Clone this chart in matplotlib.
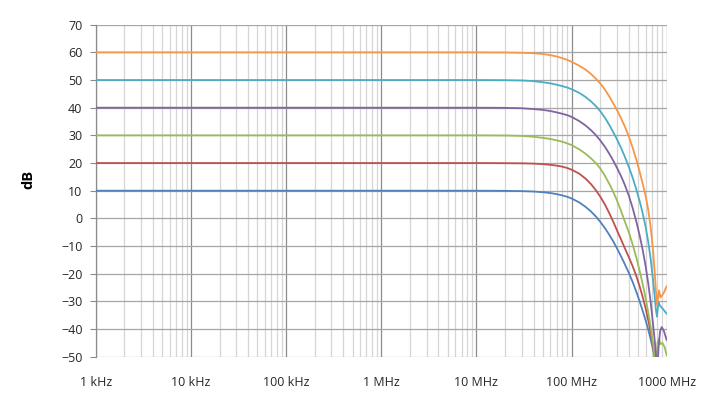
import matplotlib
matplotlib.use("Agg")
import matplotlib.pyplot as plt
from matplotlib.ticker import FixedLocator, NullFormatter, LogLocator

# Frequencies in MHz, gains in dB
f_blue = [0.001, 0.01, 0.1, 1, 10, 20, 30, 40, 50, 60, 70, 80, 90, 100, 120, 140, 160, 180, 200, 225, 250, 275, 300, 330, 360, 400, 440, 480, 520, 560, 600, 640, 680, 720, 750]
g_blue = [10, 10, 10, 10, 10, 9.95, 9.85, 9.7, 9.45, 9.15, 8.75, 8.3, 7.8, 7.2, 5.8, 4.2, 2.5, 0.7, -1.2, -3.6, -6.0, -8.4, -10.8, -13.6, -16.3, -19.7, -23.1, -26.6, -30.0, -33.5, -36.8, -40.2, -43.8, -47.6, -50.5]

f_red = [0.001, 0.01, 0.1, 1, 10, 20, 30, 40, 50, 60, 70, 80, 90, 100, 120, 140, 160, 180, 200, 225, 250, 275, 300, 330, 360, 400, 440, 480, 520, 560, 600, 640, 680, 720, 760]
g_red = [20, 20, 20, 20, 20, 19.95, 19.9, 19.8, 19.6, 19.35, 19.05, 18.7, 18.2, 17.6, 16.2, 14.4, 12.4, 10.2, 7.9, 4.9, 1.8, -1.3, -4.3, -7.5, -10.5, -14.0, -17.4, -20.9, -24.6, -28.5, -32.5, -36.8, -41.5, -46.5, -51.5]

f_green = [0.001, 0.01, 0.1, 1, 10, 20, 30, 40, 50, 60, 70, 80, 90, 100, 120, 140, 160, 180, 200, 225, 250, 275, 300, 330, 360, 400, 440, 480, 520, 560, 600, 640, 680, 720, 750, 775, 800, 830, 860, 900, 950, 1000]
g_green = [30, 30, 30, 30, 30, 29.95, 29.8, 29.5, 29.1, 28.7, 28.2, 27.7, 27.1, 26.5, 25.0, 23.4, 21.7, 20.0, 18.1, 15.3, 12.4, 9.5, 6.5, 2.9, -0.8, -5.0, -9.6, -14.2, -19.0, -23.8, -28.8, -34.0, -39.4, -45.5, -50.5, -54.0, -45.0, -43.5, -45.5, -45.0, -46.5, -49.5]

f_purple = [0.001, 0.01, 0.1, 1, 10, 20, 30, 40, 50, 60, 70, 80, 90, 100, 120, 140, 160, 180, 200, 225, 250, 275, 300, 330, 360, 400, 440, 480, 520, 560, 600, 640, 680, 720, 750, 775, 795, 820, 850, 885, 930, 970, 1000]
g_purple = [40, 40, 40, 40, 40, 39.95, 39.8, 39.5, 39.2, 38.8, 38.3, 37.8, 37.3, 36.7, 35.2, 33.6, 31.9, 30.1, 28.2, 25.8, 23.3, 20.8, 18.3, 15.4, 12.4, 8.2, 3.6, -1.2, -6.2, -11.5, -17.2, -23.5, -30.5, -38.5, -44.5, -50.5, -56.0, -47.0, -41.0, -39.3, -40.5, -42.5, -44.0]

f_cyan = [0.001, 0.01, 0.1, 1, 10, 20, 30, 40, 50, 60, 70, 80, 90, 100, 120, 140, 160, 180, 200, 225, 250, 275, 300, 330, 360, 400, 440, 480, 520, 560, 600, 640, 680, 720, 750, 770, 790, 820, 850, 900, 950, 1000]
g_cyan = [50, 50, 50, 50, 50, 49.95, 49.85, 49.6, 49.2, 48.8, 48.3, 47.8, 47.3, 46.7, 45.4, 43.9, 42.3, 40.6, 38.8, 36.3, 33.7, 31.1, 28.6, 25.6, 22.6, 18.6, 14.6, 10.4, 6.2, 1.8, -3.0, -8.5, -15.0, -22.5, -28.5, -33.0, -35.5, -30.1, -31.6, -32.5, -33.5, -34.5]

f_orange = [0.001, 0.01, 0.1, 1, 10, 20, 30, 40, 50, 60, 70, 80, 90, 100, 120, 140, 160, 180, 200, 225, 250, 275, 300, 330, 360, 400, 440, 480, 520, 560, 600, 640, 680, 720, 750, 770, 790, 810, 830, 860, 890, 930, 970, 1000]
g_orange = [60, 60, 60, 60, 60, 59.95, 59.85, 59.7, 59.4, 59.0, 58.5, 57.9, 57.3, 56.6, 55.2, 53.8, 52.2, 50.5, 48.8, 46.5, 44.0, 41.5, 39.2, 36.3, 33.5, 29.6, 25.4, 21.2, 16.8, 12.5, 8.2, 3.0, -3.5, -12.0, -20.0, -26.0, -31.3, -29.0, -26.0, -28.6, -28.0, -27.0, -25.5, -24.5]

series = [
    (f_blue, g_blue, "#4F81BD"),
    (f_red, g_red, "#C0504D"),
    (f_green, g_green, "#9BBB59"),
    (f_purple, g_purple, "#8064A2"),
    (f_cyan, g_cyan, "#4BACC6"),
    (f_orange, g_orange, "#F79646"),
]

x_ticks = [0.001, 0.01, 0.1, 1, 10, 100, 1000]
x_labels = ["1 kHz", "10 kHz", "100 kHz", "1 MHz", "10 MHz", "100 MHz", "1000 MHz"]
y_ticks = list(range(-50, 71, 10))

plt.rcParams['font.family'] = ['Open Sans', 'DejaVu Sans']

fig = plt.figure(figsize=(7.06, 4.08), dpi=100)
W, H = 706, 408
left, right, top, bottom = 95.7, 666.7, 24.7, 356.7
ax = fig.add_axes([left / W, 1 - bottom / H, (right - left) / W, (bottom - top) / H])

for f, g, c in series:
    ax.plot(f, g, color=c, lw=1.3, solid_joinstyle='round', solid_capstyle='round', zorder=3)

ax.set_xscale('log')
ax.set_xlim(0.001, 1000)
ax.set_ylim(-50, 70)

ax.xaxis.set_major_locator(FixedLocator(x_ticks))
ax.set_xticklabels(x_labels)
ax.xaxis.set_minor_locator(LogLocator(base=10, subs=range(2, 10), numticks=100))
ax.xaxis.set_minor_formatter(NullFormatter())
ax.set_yticks(y_ticks)

ax.grid(True, which='major', axis='x', color='#8C8C8C', lw=0.9, zorder=1)
ax.grid(True, which='minor', axis='x', color='#D6D6D6', lw=0.9, zorder=0)
ax.grid(True, which='major', axis='y', color='#A6A6A6', lw=0.9, zorder=1)

for s in ['top', 'right', 'bottom']:
    ax.spines[s].set_visible(False)
ax.spines['left'].set_color('#8C8C8C')
ax.spines['left'].set_linewidth(0.9)

ax.tick_params(axis='x', which='both', length=0, pad=14, labelsize=9, labelcolor='#262626')
ax.tick_params(axis='y', which='major', length=4.5, width=0.8, color='#8C8C8C', pad=5, labelsize=9, labelcolor='#262626')

fig.text(28.5 / W, 1 - 179 / H, "dB", rotation=90, fontsize=10.5, fontweight='bold',
         ha='center', va='center', color='black')

fig.savefig("out.png", dpi=100)
